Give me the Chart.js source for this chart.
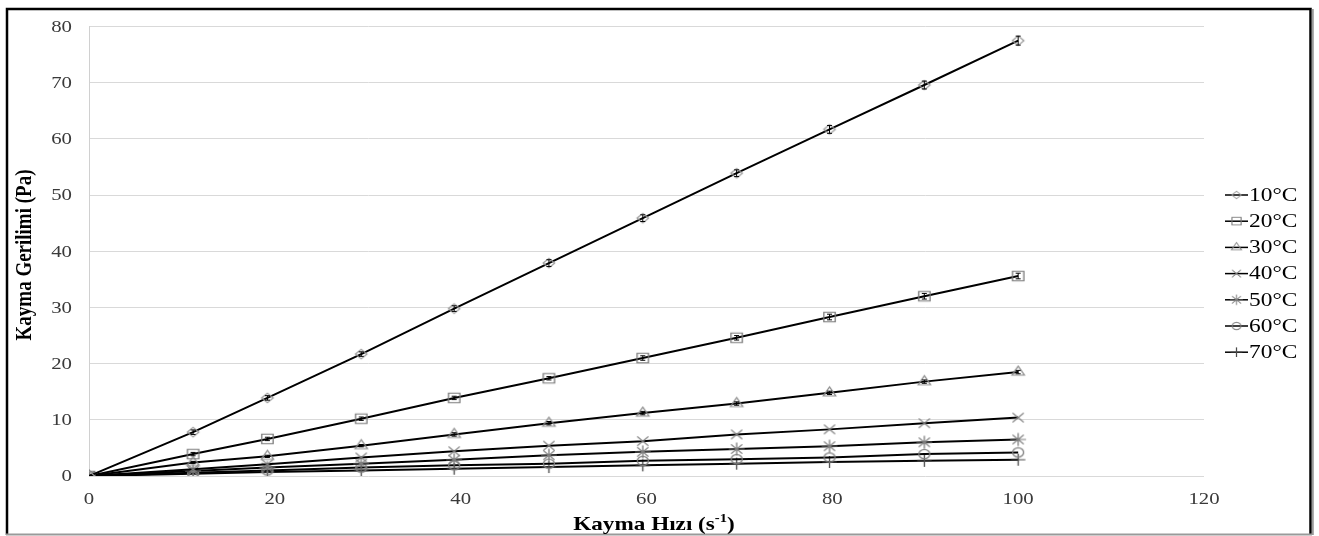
<!DOCTYPE html>
<html>
<head>
<meta charset="utf-8">
<script src="https://cdn.jsdelivr.net/npm/chart.js@4/dist/chart.umd.min.js"></script>
<style>
html,body{margin:0;padding:0;background:#fff;}
#wrap{width:1319px;height:536px;position:relative;}
</style>
</head>
<body>
<div id="wrap"><canvas id="c" width="1319" height="536"></canvas></div>
<script>
// ---- data ----
const shearRate = [0, 11.2, 19.2, 29.3, 39.3, 49.5, 59.6, 69.7, 79.7, 89.9, 100];
const labels = ['10°C', '20°C', '30°C', '40°C', '50°C', '60°C', '70°C'];
const t10 = [0, 7.8, 13.9, 21.7, 29.8, 37.9, 45.9, 53.9, 61.7, 69.6, 77.5];
const t20 = [0, 3.9, 6.6, 10.2, 13.9, 17.4, 21.0, 24.6, 28.3, 32.0, 35.6];
const t30 = [0, 2.4, 3.5, 5.4, 7.4, 9.4, 11.2, 12.9, 14.8, 16.8, 18.5];
const t40 = [0, 1.2, 2.1, 3.3, 4.4, 5.4, 6.2, 7.4, 8.3, 9.4, 10.4];
const t50 = [0, 0.9, 1.5, 2.2, 2.9, 3.7, 4.3, 4.8, 5.3, 6.0, 6.5];
const t60 = [0, 0.6, 1.0, 1.5, 1.9, 2.2, 2.7, 3.0, 3.3, 3.9, 4.2];
const t70 = [0, 0.4, 0.7, 1.0, 1.3, 1.6, 1.9, 2.2, 2.5, 2.7, 2.9];
const err10 = [0, 0.4, 0.4, 0.4, 0.5, 0.6, 0.6, 0.6, 0.7, 0.7, 0.8];
const err20 = [0, 0.3, 0.3, 0.3, 0.3, 0.3, 0.4, 0.4, 0.5, 0.5, 0.5];
const err30 = [0, 0.2, 0.2, 0.2, 0.3, 0.3, 0.3, 0.3, 0.3, 0.3, 0.3];
const xTitle = 'Kayma Hızı (s';
const xTitleSup = '-1';
const yTitle = 'Kayma Gerilimi (Pa)';

const seriesValues = [t10, t20, t30, t40, t50, t60, t70];
const seriesErrors = [err10, err20, err30, null, null, null, null];
const styles = [
  {ps: 'rectRot', r: 4.8, c: '#9a9a9a'},
  {ps: 'rect', r: 6.7, c: '#7a7a7a'},
  {ps: 'triangle', r: 6.0, c: '#8a8a8a'},
  {ps: 'crossRot', r: 6.6, c: '#7f7f7f'},
  {ps: 'star', r: 6.6, c: '#7f7f7f'},
  {ps: 'circle', r: 4.6, c: '#7f7f7f'},
  {ps: 'cross', r: 6.0, c: '#4a4a4a'}
];
const MARKER_SX = 1.2;

function markerCanvas(ps, r, color, sx) {
  const w = Math.ceil(2 * r * sx + 4), h = Math.ceil(2 * r + 4);
  const cv = document.createElement('canvas');
  cv.width = w; cv.height = h;
  const c = cv.getContext('2d');
  c.translate(w / 2, h / 2);
  c.scale(sx, 1);
  c.strokeStyle = color;
  c.fillStyle = 'rgba(255,255,255,0)';
  c.lineWidth = 1.1;
  Chart.helpers.drawPoint(c, {pointStyle: ps, radius: r, rotation: 0, borderWidth: 1.1}, 0, 0);
  return cv;
}
const markers = styles.map(s => markerCanvas(s.ps, s.r, s.c, MARKER_SX));

const datasets = seriesValues.map((vals, i) => ({
  label: labels[i],
  data: vals.map((v, j) => ({x: shearRate[j], y: v})),
  errors: seriesErrors[i],
  borderColor: '#000',
  borderWidth: 2,
  pointStyle: markers[i],
  pointRadius: styles[i].r,
  tension: 0,
  fill: false
}));

const serif = '"Liberation Serif", "Times New Roman", serif';
const STRETCH = 1.3;

function stretchedText(ctx, text, x, y, align, baseline, font, sx) {
  ctx.save();
  ctx.translate(x, y);
  ctx.scale(sx, 1);
  ctx.font = font;
  ctx.textAlign = align;
  ctx.textBaseline = baseline;
  ctx.fillText(text, 0, 0);
  ctx.restore();
}

const framePlugin = {
  id: 'frame',
  beforeDraw(chart) {
    const ctx = chart.ctx;
    ctx.save();
    ctx.fillStyle = '#fff';
    ctx.fillRect(0, 0, chart.width, chart.height);
    ctx.restore();
  },
  afterDraw(chart) {
    const ctx = chart.ctx;
    const xs = chart.scales.x, ys = chart.scales.y;
    ctx.save();
    // frame
    ctx.strokeStyle = '#000';
    ctx.lineWidth = 2.5;
    ctx.beginPath();
    ctx.moveTo(7, 535);
    ctx.lineTo(7, 9);
    ctx.lineTo(1310.5, 9);
    ctx.lineTo(1310.5, 535);
    ctx.stroke();
    ctx.strokeStyle = '#9a9a9a';
    ctx.lineWidth = 2;
    ctx.beginPath();
    ctx.moveTo(6, 534.5);
    ctx.lineTo(1312, 534.5);
    ctx.moveTo(1312.8, 9);
    ctx.lineTo(1312.8, 535);
    ctx.stroke();

    // tick labels (from the library's scales)
    ctx.fillStyle = '#3a3a3a';
    const tickFont = '16px ' + serif;
    ys.ticks.forEach(t => {
      stretchedText(ctx, String(t.value), 72, ys.getPixelForValue(t.value) + 1, 'right', 'middle', tickFont, STRETCH);
    });
    xs.ticks.forEach(t => {
      stretchedText(ctx, String(t.value), xs.getPixelForValue(t.value), 500, 'center', 'middle', tickFont, STRETCH);
    });

    // axis titles
    ctx.fillStyle = '#000';
    const sxT = 1.22;
    ctx.font = 'bold 19px ' + serif;
    const mainW = ctx.measureText(xTitle).width * sxT;
    const closeW = ctx.measureText(')').width * sxT;
    ctx.font = 'bold 12px ' + serif;
    const supW = ctx.measureText(xTitleSup).width * sxT;
    const total = mainW + supW + closeW;
    const x0 = 654 - total / 2;
    stretchedText(ctx, xTitle, x0, 530, 'left', 'alphabetic', 'bold 19px ' + serif, sxT);
    stretchedText(ctx, xTitleSup, x0 + mainW, 522, 'left', 'alphabetic', 'bold 12px ' + serif, sxT);
    stretchedText(ctx, ')', x0 + mainW + supW, 530, 'left', 'alphabetic', 'bold 19px ' + serif, sxT);

    ctx.save();
    ctx.translate(25, 255);
    ctx.rotate(-Math.PI / 2);
    ctx.scale(1, 1.25);
    ctx.font = 'bold 19px ' + serif;
    ctx.textAlign = 'center';
    ctx.textBaseline = 'middle';
    ctx.fillText(yTitle, 0, 0);
    ctx.restore();

    // legend
    chart.data.datasets.forEach((ds, i) => {
      const y = 195 + i * 26.2;
      ctx.strokeStyle = '#000';
      ctx.lineWidth = 1.5;
      ctx.beginPath();
      ctx.moveTo(1225, y);
      ctx.lineTo(1248, y);
      ctx.stroke();
      const m = markers[i];
      const k = 0.8;
      ctx.drawImage(m, 1236.5 - m.width * k / 2, y - m.height * k / 2, m.width * k, m.height * k);
      ctx.fillStyle = '#000';
      stretchedText(ctx, ds.label, 1249, y + 1, 'left', 'middle', '18px ' + serif, STRETCH);
    });
    ctx.restore();
  },
  afterDatasetsDraw(chart) {
    const ctx = chart.ctx;
    const xs = chart.scales.x, ys = chart.scales.y;
    ctx.save();
    ctx.strokeStyle = '#000';
    ctx.lineWidth = 1;
    chart.data.datasets.forEach(ds => {
      if (!ds.errors) return;
      ds.data.forEach((p, j) => {
        const e = ds.errors[j];
        if (!e) return;
        const px = xs.getPixelForValue(p.x);
        const y1 = ys.getPixelForValue(p.y - e);
        const y2 = ys.getPixelForValue(p.y + e);
        ctx.beginPath();
        ctx.moveTo(px, y1); ctx.lineTo(px, y2);
        ctx.moveTo(px - 2.5, y1); ctx.lineTo(px + 2.5, y1);
        ctx.moveTo(px - 2.5, y2); ctx.lineTo(px + 2.5, y2);
        ctx.stroke();
      });
    });
    ctx.restore();
  }
};

new Chart(document.getElementById('c'), {
  type: 'line',
  data: {datasets},
  options: {
    responsive: false,
    devicePixelRatio: 1,
    animation: false,
    layout: {padding: {top: 23, right: 115, left: 0, bottom: 0}},
    plugins: {legend: {display: false}, tooltip: {enabled: false}},
    scales: {
      x: {
        type: 'linear',
        min: 0, max: 120,
        ticks: {stepSize: 20, color: 'rgba(0,0,0,0)', font: {family: serif, size: 16}, padding: 14, maxRotation: 0},
        grid: {display: false, drawTicks: false},
        border: {display: false},
        afterFit(s) { s.height = 60; }
      },
      y: {
        min: 0, max: 80,
        ticks: {stepSize: 10, color: 'rgba(0,0,0,0)', font: {family: serif, size: 16}, padding: 17},
        grid: {color: '#d9d9d9', lineWidth: 1, drawTicks: false},
        border: {display: true, color: '#d0d0d0', width: 1},
        afterFit(s) { s.width = 89; }
      }
    }
  },
  plugins: [framePlugin]
});
</script>
</body>
</html>
